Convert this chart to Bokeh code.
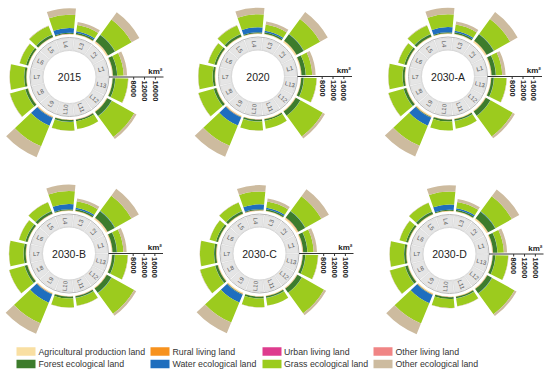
import math
from bokeh.plotting import figure
from bokeh.models import Range1d, ColumnDataSource
from bokeh.core.properties import value
from bokeh.embed import file_html
from bokeh.resources import INLINE

# ---------------- data ----------------
regions = ["L1", "L2", "L3", "L4", "L5", "L6", "L7", "L8", "L9", "L10", "L11", "L12", "L13"]
scenarios = ["2015", "2020", "2030-A", "2030-B", "2030-C", "2030-D"]
categories = ["Agricultural production land", "Rural living land", "Urban living land", "Other living land",
              "Forest ecological land", "Water ecological land", "Grass ecological land", "Other ecological land"]
colors = ["#F9DFA2", "#F7921E", "#DE3C8E", "#F08585", "#3D7C2C", "#1F6EBE", "#9CCB1E", "#CDBB9F"]
radial_ticks = [8000, 12000, 16000]

agri_2015 = [290, 520, 210, 190, 170, 160, 200, 210, 380, 170, 180, 250, 190]
rural_2015 = [40, 60, 30, 30, 40, 30, 40, 50, 60, 30, 30, 50, 40]
urban_2015 = [20, 30, 10, 20, 10, 10, 20, 20, 30, 10, 20, 20, 10]
oliving_2015 = [10, 20, 10, 10, 10, 10, 10, 10, 20, 10, 10, 10, 10]
forest_2015 = [1530, 2910, 550, 360, 910, 730, 730, 910, 180, 620, 550, 1820, 910]
water_2015 = [60, 120, 550, 1820, 80, 50, 60, 90, 3130, 70, 60, 110, 80]
grass_2015 = [2370, 6920, 2330, 4840, 3460, 2400, 5280, 5820, 8150, 3280, 2910, 9460, 4700]
oeco_2015 = [1270, 3280, 1160, 2440, 150, 100, 120, 150, 4370, 90, 80, 950, 150]

agri_2020 = [300, 540, 220, 200, 180, 170, 210, 220, 390, 180, 190, 260, 200]
rural_2020 = [45, 65, 35, 35, 45, 35, 45, 55, 65, 35, 35, 55, 45]
urban_2020 = [25, 35, 15, 25, 15, 15, 25, 25, 35, 15, 25, 25, 15]
oliving_2020 = [10, 20, 10, 10, 10, 10, 10, 10, 20, 10, 10, 10, 10]
forest_2020 = [1550, 2950, 560, 370, 920, 740, 740, 920, 190, 630, 560, 1850, 920]
water_2020 = [60, 130, 560, 1850, 80, 50, 60, 90, 3180, 70, 60, 110, 80]
grass_2020 = [2340, 6860, 2310, 4800, 3430, 2380, 5240, 5780, 8090, 3260, 2890, 9400, 4670]
oeco_2020 = [1250, 3220, 1140, 2400, 140, 100, 110, 140, 4310, 90, 80, 930, 140]

agri_2030a = [310, 560, 230, 210, 190, 175, 215, 230, 400, 185, 195, 270, 205]
rural_2030a = [50, 70, 35, 40, 50, 35, 50, 60, 70, 40, 40, 60, 50]
urban_2030a = [30, 45, 20, 30, 20, 20, 30, 30, 45, 20, 30, 30, 20]
oliving_2030a = [10, 20, 10, 10, 10, 10, 10, 10, 20, 10, 10, 10, 10]
forest_2030a = [1560, 2970, 570, 375, 930, 745, 745, 930, 195, 635, 565, 1860, 930]
water_2030a = [60, 130, 565, 1870, 85, 50, 60, 95, 3200, 70, 60, 115, 80]
grass_2030a = [2310, 6800, 2290, 4760, 3400, 2360, 5200, 5740, 8030, 3240, 2870, 9340, 4640]
oeco_2030a = [1230, 3170, 1120, 2370, 140, 95, 110, 140, 4260, 85, 75, 910, 140]

agri_2030b = [295, 530, 215, 195, 175, 165, 205, 215, 385, 175, 185, 255, 195]
rural_2030b = [45, 65, 35, 35, 45, 35, 45, 55, 65, 35, 35, 55, 45]
urban_2030b = [25, 40, 15, 25, 15, 15, 25, 25, 40, 15, 25, 25, 15]
oliving_2030b = [10, 20, 10, 10, 10, 10, 10, 10, 20, 10, 10, 10, 10]
forest_2030b = [1600, 3020, 580, 385, 950, 760, 760, 950, 200, 650, 575, 1900, 950]
water_2030b = [65, 135, 575, 1900, 85, 55, 65, 95, 3250, 75, 65, 120, 85]
grass_2030b = [2380, 6950, 2340, 4860, 3480, 2410, 5300, 5850, 8180, 3300, 2930, 9500, 4720]
oeco_2030b = [1180, 3100, 1090, 2320, 130, 90, 100, 130, 4180, 80, 70, 880, 130]

agri_2030c = [330, 590, 240, 220, 200, 185, 230, 245, 420, 195, 205, 285, 215]
rural_2030c = [55, 75, 40, 40, 55, 40, 55, 65, 75, 40, 40, 65, 55]
urban_2030c = [35, 50, 20, 35, 20, 20, 35, 35, 50, 20, 35, 35, 20]
oliving_2030c = [15, 25, 10, 15, 10, 10, 15, 15, 25, 10, 15, 15, 10]
forest_2030c = [1520, 2890, 545, 355, 900, 720, 720, 900, 180, 615, 545, 1800, 900]
water_2030c = [60, 120, 545, 1810, 80, 50, 60, 90, 3110, 70, 60, 110, 80]
grass_2030c = [2300, 6780, 2280, 4740, 3390, 2350, 5180, 5720, 8000, 3220, 2860, 9300, 4620]
oeco_2030c = [1220, 3150, 1110, 2350, 135, 95, 105, 135, 4230, 85, 75, 900, 135]

agri_2030d = [305, 550, 225, 205, 185, 170, 210, 225, 395, 180, 190, 265, 200]
rural_2030d = [50, 70, 35, 35, 50, 35, 50, 60, 70, 35, 35, 60, 50]
urban_2030d = [30, 40, 15, 30, 15, 15, 30, 30, 40, 15, 30, 30, 15]
oliving_2030d = [10, 20, 10, 10, 10, 10, 10, 10, 20, 10, 10, 10, 10]
forest_2030d = [1580, 2990, 575, 380, 940, 755, 755, 940, 195, 640, 570, 1880, 940]
water_2030d = [65, 130, 570, 1880, 85, 50, 60, 95, 3220, 70, 60, 115, 80]
grass_2030d = [2350, 6900, 2320, 4820, 3450, 2390, 5260, 5800, 8120, 3270, 2900, 9440, 4690]
oeco_2030d = [1200, 3130, 1100, 2340, 135, 90, 105, 135, 4220, 80, 75, 890, 135]

scenario_series = {
    "2015": [agri_2015, rural_2015, urban_2015, oliving_2015, forest_2015, water_2015, grass_2015, oeco_2015],
    "2020": [agri_2020, rural_2020, urban_2020, oliving_2020, forest_2020, water_2020, grass_2020, oeco_2020],
    "2030-A": [agri_2030a, rural_2030a, urban_2030a, oliving_2030a, forest_2030a, water_2030a, grass_2030a, oeco_2030a],
    "2030-B": [agri_2030b, rural_2030b, urban_2030b, oliving_2030b, forest_2030b, water_2030b, grass_2030b, oeco_2030b],
    "2030-C": [agri_2030c, rural_2030c, urban_2030c, oliving_2030c, forest_2030c, water_2030c, grass_2030c, oeco_2030c],
    "2030-D": [agri_2030d, rural_2030d, urban_2030d, oliving_2030d, forest_2030d, water_2030d, grass_2030d, oeco_2030d],
}

# ---------------- layout ----------------
W, H = 550, 374
centers_img = [(69, 76.5), (257.5, 76), (447.5, 76), (68.5, 253), (259, 253), (449, 253.5)]
R_IN, R_OUT, R_BORDER = 27.0, 38.5, 39.5
R0 = 42.5          # radius where value 0 sits
K = 0.00271        # px per km2
FONT = value("Liberation Sans")

p = figure(width=W, height=H, x_range=Range1d(0, W), y_range=Range1d(0, H),
           output_backend="svg", toolbar_location=None, min_border=0)
p.axis.visible = False
p.grid.visible = False
p.outline_line_color = None
p.background_fill_color = "white"
p.border_fill_color = "white"

n = len(regions)
step = 2 * math.pi / n
bar_half = math.radians(12.3)
tile_half = math.radians(12.9)


def rad(v):
    return R0 + K * v


wedge = dict(x=[], y=[], ri=[], ro=[], a0=[], a1=[], c=[])
tiles = dict(x=[], y=[], a0=[], a1=[])
labs = dict(x=[], y=[], t=[], ang=[])
for s_idx, s in enumerate(scenarios):
    cxi, cyi = centers_img[s_idx]
    cx, cy = cxi, H - cyi
    series = scenario_series[s]
    for i, reg in enumerate(regions):
        th = (i + 0.5) * step
        cum = 0.0
        for c_idx, ser in enumerate(series):
            v = ser[i]
            wedge["x"].append(cx); wedge["y"].append(cy)
            wedge["ri"].append(rad(cum)); wedge["ro"].append(rad(cum + v))
            wedge["a0"].append(th - bar_half); wedge["a1"].append(th + bar_half)
            wedge["c"].append(colors[c_idx])
            cum += v
        tiles["x"].append(cx); tiles["y"].append(cy)
        tiles["a0"].append(th - tile_half); tiles["a1"].append(th + tile_half)
        rl = (R_IN + R_OUT) / 2
        labs["x"].append(cx + rl * math.cos(th)); labs["y"].append(cy + rl * math.sin(th))
        labs["t"].append(reg)
        labs["ang"].append(th if math.cos(th) >= 0 else th - math.pi)

p.annular_wedge(x="x", y="y", inner_radius=R_IN, outer_radius=R_OUT, start_angle="a0", end_angle="a1",
                source=ColumnDataSource(tiles), fill_color="#E5E5E5", line_color="#D0D0D0", line_width=0.5)
p.annular_wedge(x="x", y="y", inner_radius="ri", outer_radius="ro", start_angle="a0", end_angle="a1",
                source=ColumnDataSource(wedge), fill_color="c", line_color=None)
p.text(x="x", y="y", text="t", angle="ang", source=ColumnDataSource(labs), text_font=FONT,
       text_font_size="6px", text_color="#555555", text_align="center", text_baseline="middle")

cxs = [c[0] for c in centers_img]
cys = [H - c[1] for c in centers_img]
p.circle(x=cxs, y=cys, radius=R_BORDER, fill_color=None, line_color="#B8B8B8", line_width=1)
p.circle(x=cxs, y=cys, radius=R_IN - 0.5, fill_color=None, line_color="#CFCFCF", line_width=0.8)

# year labels
p.text(x=cxs, y=cys, text=scenarios, text_font=FONT, text_font_size="10.5px", text_color="#222222",
       text_align="center", text_baseline="middle")

# radial axis
p.segment(x0=[x + R_BORDER for x in cxs], y0=cys, x1=[x + 94 for x in cxs], y1=cys,
          line_color="#333333", line_width=1)
tx, ty0, ty1, tl_x, tl_y, tl_t = [], [], [], [], [], []
for cx, cy in zip(cxs, cys):
    for t in radial_ticks:
        tx.append(cx + rad(t)); ty0.append(cy); ty1.append(cy - 2.5)
        tl_x.append(cx + rad(t)); tl_y.append(cy - 3.5); tl_t.append(str(t))
p.segment(x0=tx, y0=ty0, x1=tx, y1=ty1, line_color="#333333", line_width=1)
p.text(x=tl_x, y=tl_y, text=tl_t, angle=-math.pi / 2, text_font=FONT, text_font_size="7.5px",
       text_font_style="bold", text_color="#222222", text_align="left", text_baseline="middle")
p.text(x=[x + 93 for x in cxs], y=[y + 1.5 for y in cys], text=["km²"] * len(cxs), text_font=FONT,
       text_font_size="8px", text_font_style="bold", text_color="#222222", text_align="right",
       text_baseline="bottom")

# legend
leg_sw_x = [16, 150, 262, 373]
leg_txt_x = [38, 172, 283.5, 395]
leg_row_y = [351, 363.5]
sx, sy, scol, lx, ly, lt = [], [], [], [], [], []
for idx, (cat, col) in enumerate(zip(categories, colors)):
    row, colm = divmod(idx, 4)
    sx.append(leg_sw_x[colm] + 9.5); sy.append(H - leg_row_y[row]); scol.append(col)
    lx.append(leg_txt_x[colm]); ly.append(H - leg_row_y[row]); lt.append(cat)
p.rect(x=sx, y=sy, width=19, height=8.5, fill_color=scol, line_color=None)
p.text(x=lx, y=ly, text=lt, text_font=FONT, text_font_size="8.8px", text_color="#333333",
       text_align="left", text_baseline="middle")

open("out.html", "w").write(file_html(p, INLINE))
